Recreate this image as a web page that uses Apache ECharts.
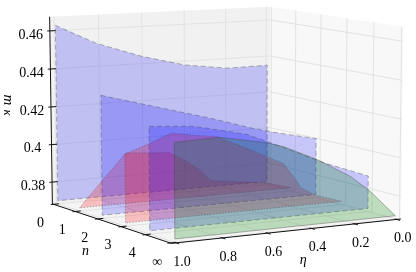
<!DOCTYPE html>
<html><head><meta charset="utf-8">
<style>html,body{margin:0;padding:0;background:#fff}#c{width:416px;height:272px}</style>
<script src="https://cdn.jsdelivr.net/npm/echarts@6/dist/echarts.min.js"></script>
</head><body><div id="c"></div>
<script>
// ---- data ----
const mFloor = 0.37;
const nLabels = ['0','1','2','3','4','∞'];
const etaTicks = [1.0,0.8,0.6,0.4,0.2,0.0];
const etaTickLabels = ['1.0','0.8','0.6','0.4','0.2','0.0'];
const mTicks = [0.38,0.40,0.42,0.44,0.46];
const mTickLabels = ['0.38','0.4','0.42','0.44','0.46'];

const eta0 = [1,0.815,0.607,0.405,0.198,0];
const m0   = [0.4629,0.4523,0.4441,0.4381,0.4349,0.4352];
const eta1 = [1,0.943,0.789,0.589,0.541,0.493,0.445,0.397,0.368,0.12,0];
const m1   = [0.37,0.3775,0.3968,0.3951,0.392,0.3884,0.3843,0.3784,0.3776,0.374,0.37];
const eta2 = [1,0.751,0.502,0.305,0.207,0];
const m2   = [0.4317,0.4237,0.4157,0.4087,0.4058,0.4005];
const eta3 = [1,0.888,0.794,0.701,0.593,0.421,0.28,0.22,0.196,0.126,0];
const m3   = [0.405,0.4095,0.4138,0.4118,0.4102,0.401,0.393,0.3836,0.3792,0.3747,0.37];
const eta4 = [1,0.815,0.708,0.569,0.458,0.2,0];
const m4   = [0.422,0.4205,0.4179,0.4142,0.4088,0.3957,0.3872];
const eta5 = [1,0.808,0.598,0.521,0.37,0.215,0.123,0];
const m5   = [0.4173,0.4181,0.4134,0.4107,0.4028,0.3927,0.3842,0.37];

// ---- axis ranges and camera calibration (box corner -> screen) ----
const etaLim = [-0.02,1.02], nLim = [-0.05,5.05], mLim = [0.3683,0.4674];
const camera = [
  [1,0,0, 52,204],[1,0,1, 49.5,17],[0,0,1, 270.5,7],[0,1,1, 403,26],
  [0,1,0, 400.5,220],[1,1,0, 172,243],[0,0,0, 270,183]
];
function solve(A,b){const n=b.length;for(let i=0;i<n;i++){let p=i;for(let r=i+1;r<n;r++)if(Math.abs(A[r][i])>Math.abs(A[p][i]))p=r;
  [A[i],A[p]]=[A[p],A[i]];[b[i],b[p]]=[b[p],b[i]];
  for(let r=i+1;r<n;r++){const f=A[r][i]/A[i][i];for(let c=i;c<n;c++)A[r][c]-=f*A[i][c];b[r]-=f*b[i];}}
  const x=Array(n).fill(0);for(let i=n-1;i>=0;i--){let s=b[i];for(let c=i+1;c<n;c++)s-=A[i][c]*x[c];x[i]=s/A[i][i];}return x;}
const rows=[],rhs=[];
camera.forEach(([u,v,w,X,Y])=>{const x=X/400,y=Y/400;
  rows.push([u,v,w,1,0,0,0,0,-x*u,-x*v,-x*w]);rhs.push(x);
  rows.push([0,0,0,0,u,v,w,1,-y*u,-y*v,-y*w]);rhs.push(y);});
const ATA=Array.from({length:11},(_,i)=>Array.from({length:11},(_,j)=>rows.reduce((s,r)=>s+r[i]*r[j],0)));
const ATb=Array.from({length:11},(_,i)=>rows.reduce((s,r,k)=>s+r[i]*rhs[k],0));
const P=solve(ATA,ATb);
function norm(eta,n,m){return [(eta-etaLim[0])/(etaLim[1]-etaLim[0]),(n-nLim[0])/(nLim[1]-nLim[0]),(m-mLim[0])/(mLim[1]-mLim[0])];}
function project(eta,n,m){const [u,v,w]=norm(eta,n,m);const d=P[8]*u+P[9]*v+P[10]*w+1;
  return [400*(P[0]*u+P[1]*v+P[2]*w+P[3])/d,400*(P[4]*u+P[5]*v+P[6]*w+P[7])/d];}

// ---- primitives ----
const E0=etaLim[0],E1=etaLim[1],N0=nLim[0],N1=nLim[1],M0=mLim[0],M1=mLim[1];
const items=[];
function poly(pts,style){items.push({k:'polygon',pts,style});}
function line(pts,style){items.push({k:'polyline',pts,style});}
function text(pts,txt,dx,dy,font,rot,align){items.push({k:'text',pts,txt,dx,dy,font,rot,align});}
poly([[E0,N0,M0],[E1,N0,M0],[E1,N0,M1],[E0,N0,M1]],{fill:'#f1f1f1'});
poly([[E0,N0,M0],[E0,N1,M0],[E0,N1,M1],[E0,N0,M1]],{fill:'#f8f8f8'});
poly([[E0,N0,M0],[E1,N0,M0],[E1,N1,M0],[E0,N1,M0]],{fill:'#f4f4f4'});
const gridStyle={stroke:'#e3e3e3',lineWidth:1,fill:null};
etaTicks.forEach(e=>{line([[e,N0,M0],[e,N0,M1]],gridStyle);line([[e,N0,M0],[e,N1,M0]],gridStyle);});
nLabels.forEach((_,i)=>{line([[E0,i,M0],[E0,i,M1]],gridStyle);line([[E0,i,M0],[E1,i,M0]],gridStyle);});
mTicks.forEach(m=>{line([[E1,N0,m],[E0,N0,m],[E0,N1,m]],gridStyle);});

const planes=[
 [0,eta0,m0,'rgba(0,0,255,0.2)',[5,3]],
 [1,eta1,m1,'rgba(255,0,0,0.22)',[1.5,1.5]],
 [2,eta2,m2,'rgba(0,0,255,0.2)',[5,3]],
 [3,eta3,m3,'rgba(255,0,0,0.22)',[1.5,1.5]],
 [4,eta4,m4,'rgba(0,0,255,0.2)',[5,3]],
 [5,eta5,m5,'rgba(0,128,0,0.23)',null]
];
planes.forEach(([n,es,ms,fill,dash])=>{
  const pts=es.map((e,i)=>[e,n,ms[i]]);
  pts.push([es[es.length-1],n,mFloor]);pts.push([es[0],n,mFloor]);
  poly(pts,{fill,stroke:'rgba(70,70,70,0.4)',lineWidth:1,lineDash:dash||undefined});
});
const axisStyle={stroke:'#111',lineWidth:1,fill:null};
line([[E1,N0,M1],[E1,N0,M0],[E1,N1,M0],[E0,N1,M0]],axisStyle);
const font='14px "Liberation Serif"', ifont='italic 14px "Liberation Serif"';
mTicks.forEach((m,i)=>{line([[E1+0.012,N0,m],[E1-0.025,N0,m]],axisStyle);
  text([E1,N0,m],mTickLabels[i],-19,4,font,0,'center');});
nLabels.forEach((l,i)=>{line([[E1+0.012,i,M0],[E1-0.025,i,M0]],axisStyle);
  text([E1,i,M0],l,-13,19,font,0,'center');});
etaTicks.forEach((e,i)=>{line([[e,N1-0.07,M0],[e,N1+0.12,M0]],axisStyle);
  text([e,N1,M0],etaTickLabels[i],6,19,font,0,'center');});
text([E1,2.3,M0],'n',-19,30,ifont,0,'center');
text([0.47,N1,M0],'η',7,30,ifont,0,'center');
items.push({k:'abs',x:8,y:100,txt:'m',font:'italic 15px "Liberation Serif"'});
items.push({k:'abs',x:7,y:112.5,txt:'κ',font:'italic 13px "Liberation Serif"'});

function renderItem(params,api){
  const it=items[api.value(0)];
  const toPx=p=>{const q=project(p[0],p[1],p[2]);return api.coord(q);};
  if(it.k==='polygon'||it.k==='polyline')
    return {type:it.k,shape:{points:it.pts.map(toPx)},style:it.style,silent:true};
  if(it.k==='abs'){const c=api.coord([it.x,it.y]);
    return {type:'text',x:c[0],y:c[1],rotation:-Math.PI/2,silent:true,
      style:{text:it.txt,font:it.font,fill:'#000',textAlign:'center',textVerticalAlign:'middle'}};}
  const c=toPx(it.pts);
  return {type:'text',x:c[0]+it.dx,y:c[1]+it.dy,rotation:it.rot,silent:true,
    style:{text:it.txt,font:it.font,fill:'#000',textAlign:it.align,textVerticalAlign:'middle'}};
}
const chart=echarts.init(document.getElementById('c'),null,{renderer:'canvas',width:416,height:272});
chart.setOption({
  animation:false,backgroundColor:'#fff',
  grid:{left:0,top:0,width:416,height:272},
  xAxis:{type:'value',min:0,max:416,show:false},
  yAxis:{type:'value',min:0,max:272,inverse:true,show:false},
  series:[{type:'custom',renderItem,clip:false,silent:true,encode:{x:0,y:0},data:items.map((_,i)=>[i])}]
});
</script></body></html>
